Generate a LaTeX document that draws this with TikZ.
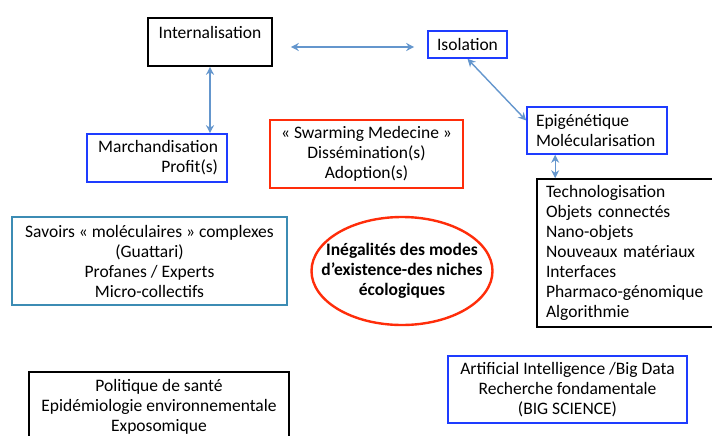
\documentclass[tikz,border=0pt]{standalone}
\usepackage{fontspec}
\setmainfont{Carlito}
\usetikzlibrary{arrows.meta}
\definecolor{boxblue}{RGB}{30,60,255}
\definecolor{boxred}{RGB}{255,45,10}
\definecolor{boxteal}{RGB}{60,140,180}
\definecolor{linkblue}{RGB}{100,150,205}
\begin{document}
\begin{tikzpicture}[x=1pt,y=-1pt,
    every node/.style={font=\fontsize{17.5}{20}\selectfont, line width=1.6pt, inner sep=4pt},
    box/.style={draw, rectangle, align=center},
    link/.style={draw=linkblue, line width=1.4pt, {Stealth[length=8pt,width=8pt]}-{Stealth[length=8pt,width=8pt]}}]
		\useasboundingbox (0,0) rectangle (712,436);
		
		\node[box, minimum width=124pt, minimum height=48pt] (intern) at (210,42) {Internalisation\\\mbox{}};
		\node[box, draw=boxblue, text width=122pt, align=right, inner xsep=9pt, minimum height=48pt] (march) at (157,158) {Marchandisation\\Profit(s)};
		\node[box, draw=boxred, line width=2.2pt, minimum width=193pt, minimum height=68pt] (swarm) at (366.5,154) {« Swarming Medecine »\\Dissémination(s)\\Adoption(s)};
		\node[box, draw=boxblue, minimum width=79pt, minimum height=27pt] (isol) at (467.5,44.5) {Isolation};
		\node[box, draw=boxblue, text width=122pt, align=left, inner xsep=9pt, minimum height=47pt] (epi) at (597,130.5) {Epigénétique\\Molécularisation};
		\node[box, text width=167pt, align=left, inner xsep=9pt, minimum height=148pt] (tech) at (629.5,253) {Technologisation\\Objets connectés\\Nano-objets\\Nouveaux matériaux\\Interfaces\\Pharmaco-génomique\\Algorithmie};
		
		\node[box, draw=boxteal, minimum width=275pt, minimum height=88pt] (savoirs) at (149.5,261) {Savoirs « moléculaires » complexes\\(Guattari)\\Profanes / Experts\\Micro-collectifs};
		\node[align=center, font=\fontsize{17.5}{20}\selectfont\bfseries] (niche) at (402,271) {Inégalités des modes\\d’existence-des niches\\écologiques};
		\draw[boxred, line width=2.4pt] (niche.center) ellipse [x radius=90.5, y radius=54];
		
		\node[box, draw=boxblue, minimum width=239pt, minimum height=67pt] (ai) at (567.5,389.5) {Artificial Intelligence /Big Data\\Recherche fondamentale\\(BIG SCIENCE)};
		\node[box, minimum width=260pt, minimum height=70pt] (polit) at (159,407) {Politique de santé\\Epidémiologie environnementale\\Exposomique};
		
		\draw[link] (intern.south) -- (intern.south |- march.north);
		\draw[link] ([shift={(18pt,-5pt)}]intern.east) -- ([shift={(-13pt,-2.5pt)}]isol.west);
		\draw[link] (isol.south) -- ([yshift=10pt]epi.west);
		\draw[link] ([xshift=19pt]tech.north west |- epi.south) -- ([xshift=19pt]tech.north west);
\end{tikzpicture}
\end{document}
